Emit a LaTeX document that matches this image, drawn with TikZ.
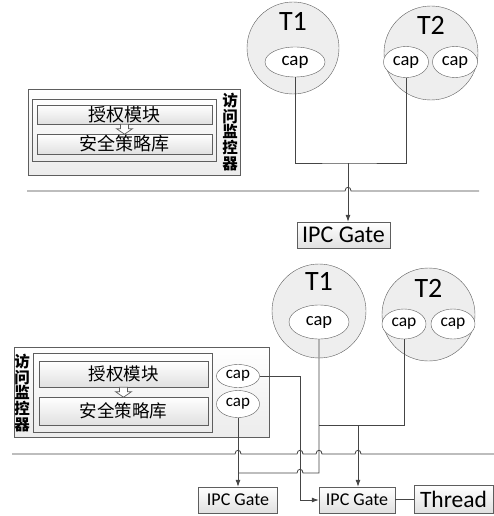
\documentclass[tikz,border=0pt]{standalone}
\usepackage{fontspec}
\setmainfont{Carlito}
\newfontfamily\cjk{Noto Sans CJK SC}
\usetikzlibrary{shapes,arrows.meta,positioning}

\definecolor{linec}{HTML}{454545}
\definecolor{edgec}{HTML}{5E5E5E}
\definecolor{circfill}{HTML}{EEEEEE}

\begin{document}
\begin{tikzpicture}[x=1pt, y=-1pt,
    task/.style={circle, draw=edgec, fill=circfill, minimum size=#1, inner sep=0pt},
    tname/.style={font=\fontsize{28}{28}\selectfont, inner sep=0pt},
    capnode/.style={ellipse, draw=edgec, fill=white, inner sep=0pt},
    box/.style={rectangle, draw=edgec, top color=white, bottom color=gray!24, inner sep=0pt},
    framebox/.style={rectangle, draw=edgec, top color=white, bottom color=gray!15, inner sep=0pt},
    vlabel/.style={align=center, inner sep=0pt, font=\cjk\bfseries\fontsize{15.5}{15.6}\selectfont},
    hollow/.style={draw=edgec, fill=white, line width=0.7pt},
    wire/.style={draw=linec, line width=0.8pt},
    arrow/.style={wire, -{Latex[length=7pt,width=5pt]}}
]
\useasboundingbox (0,0) rectangle (494,516);

% ---- upper picture
\node[task=92] (t1) at (293,48) {};
\node[tname] (t1name) at (293,21) {T1};
\node[capnode, minimum width=60, minimum height=30, font=\fontsize{19}{19}\selectfont] (t1cap) at (295,62) {cap};
\node[task=94] (t2) at (431,53) {};
\node[tname] (t2name) at (431,25) {T2};
\node[capnode, minimum width=45, minimum height=31, font=\fontsize{18.5}{18.5}\selectfont] (t2capa) at (406,62) {cap};
\node[capnode, minimum width=45, minimum height=31, font=\fontsize{18.5}{18.5}\selectfont] (t2capb) at (455,62) {cap};

\node[framebox, minimum width=212, minimum height=86] (mon) at (134,132) {};
\node[framebox, minimum width=184, minimum height=62] (inner) at (124,130) {};
\node[box, minimum width=175, minimum height=19, font=\cjk\fontsize{18}{18}\selectfont] (auth) at (124.5,114.5) {授权模块};
\node[box, minimum width=175, minimum height=20, font=\cjk\fontsize{18}{18}\selectfont] (pol) at (124.5,144) {安全策略库};
\node[vlabel] (mlabel) at (230,132) {访\\问\\监\\控\\器};
\draw[hollow] (auth.south) ++(-4,0) -- ++(8,0) -- ++(0,4.5) -- ++(4,0) -- ++(-8,5.5) -- ++(-8,-5.5) -- ++(4,0) -- cycle;

\node[box, minimum width=93, minimum height=26, font=\fontsize{24}{24}\selectfont] (ipc) at (343.5,235) {IPC Gate};

\draw[wire] (27,191) -- (345,191) .. controls (345,186) and (351,186) .. (351,191) -- (479,191);

\coordinate (j1) at (348,163);
\draw[wire] (t1cap.south) |- (j1) -| (t2capa.south);
\draw[arrow] (j1) -- (j1 |- ipc.north);

% ---- lower picture
\node[task=94] (t1b) at (319,311) {};
\node[tname] (t1bname) at (319,281) {T1};
\node[capnode, minimum width=60, minimum height=34, font=\fontsize{18.5}{18.5}\selectfont] (t1bcap) at (319,322) {cap};
\node[task=93] (t2b) at (428.5,314.5) {};
\node[tname] (t2bname) at (428.5,288) {T2};
\node[capnode, minimum width=44, minimum height=30, font=\fontsize{17.5}{17.5}\selectfont] (t2bcapa) at (404,324) {cap};
\node[capnode, minimum width=44, minimum height=30, font=\fontsize{17.5}{17.5}\selectfont] (t2bcapb) at (453,324) {cap};

\node[framebox, minimum width=255, minimum height=90] (monb) at (141.5,392) {};
\node[framebox, minimum width=179, minimum height=79] (innerb) at (122.5,392.5) {};
\node[box, minimum width=169, minimum height=26, font=\cjk\fontsize{17.5}{17.5}\selectfont] (authb) at (123.5,374) {授权模块};
\node[box, minimum width=169, minimum height=28, font=\cjk\fontsize{17.5}{17.5}\selectfont] (polb) at (123.5,411) {安全策略库};
\node[vlabel] (mlabelb) at (22,393) {访\\问\\监\\控\\器};
\draw[hollow] (authb.south) ++(-4,0) -- ++(8,0) -- ++(0,4.5) -- ++(4,0) -- ++(-8,5.5) -- ++(-8,-5.5) -- ++(4,0) -- cycle;

\node[capnode, minimum width=43, minimum height=23, font=\fontsize{17}{17}\selectfont] (capm1) at (238,376) {cap};
\node[capnode, minimum width=43, minimum height=27, font=\fontsize{17}{17}\selectfont] (capm2) at (238,404) {cap};

\node[box, minimum width=79, minimum height=26, font=\fontsize{18}{18}\selectfont] (gatea) at (238,500) {IPC Gate};
\node[box, minimum width=76, minimum height=26, font=\fontsize{18}{18}\selectfont] (gateb) at (357,500) {IPC Gate};
\node[box, minimum width=79, minimum height=28, font=\fontsize{23.5}{23.5}\selectfont] (thread) at (453.5,499) {Thread};

\draw[wire] (12,454) -- (235,454) .. controls (235,449) and (241,449) .. (241,454)
  -- (297,454) .. controls (297,449) and (303,449) .. (303,454)
  -- (316,454) .. controls (316,449) and (322,449) .. (322,454)
  -- (355,454) .. controls (355,449) and (361,449) .. (361,454) -- (494,454);

\coordinate (j2) at (238,473);
\coordinate (j3) at (358,425);
\coordinate (k1) at (300,500);
\draw[arrow] (capm2.south) -- (gatea.north);
\draw[wire] (t1bcap.south) -- (319,473) -- (303,473) .. controls (303,468) and (297,468) .. (297,473) -- (j2);
\draw[wire] (t2bcapa.south) |- (t1bcap.south |- j3);
\draw[arrow] (j3) -- (j3 |- gateb.north);
\draw[arrow] (capm1.east) -| (k1) -- (gateb.west);
\draw[wire] (gateb) -- (thread);
\end{tikzpicture}
\end{document}
